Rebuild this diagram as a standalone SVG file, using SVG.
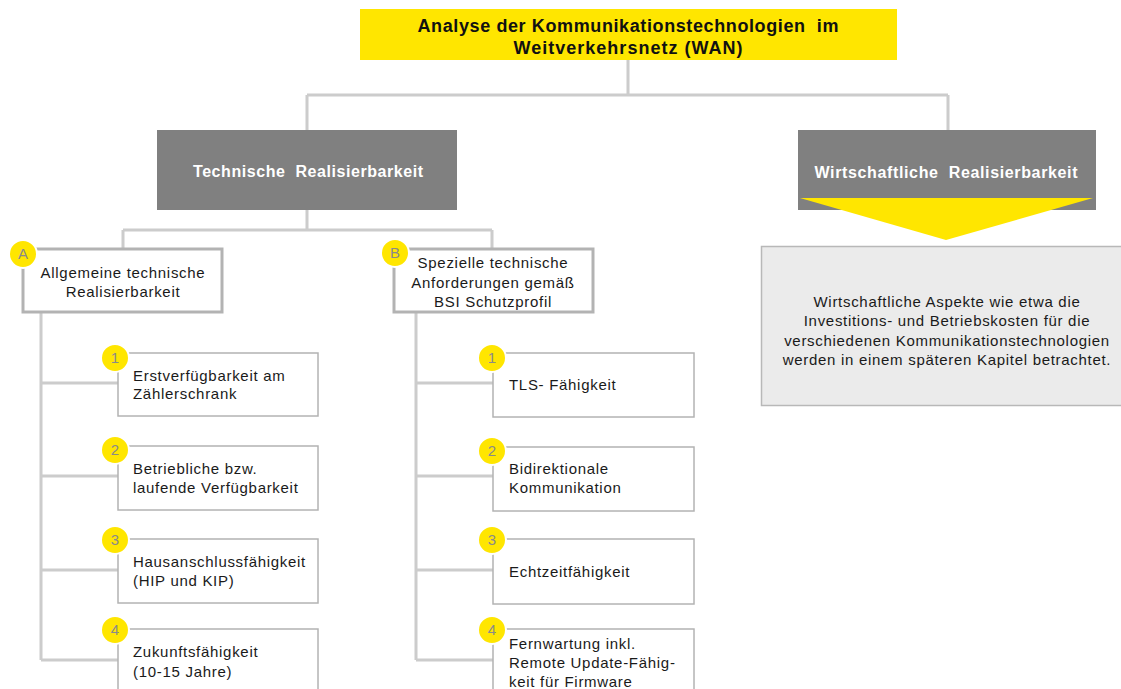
<svg xmlns="http://www.w3.org/2000/svg" width="1121" height="689" viewBox="0 0 1121 689">
<style>
.t{font-family:"Liberation Sans",Arial,sans-serif;fill:#1a1a1a;font-size:15px;letter-spacing:0.7px}
.ttl{font-family:"Liberation Sans",Arial,sans-serif;fill:#111111;font-size:18px;font-weight:bold;text-anchor:middle}
.w{font-family:"Liberation Sans",Arial,sans-serif;fill:#ffffff;font-weight:bold;font-size:16px;text-anchor:middle}
.c{text-anchor:middle}
.ln{stroke:#cccccc;stroke-width:3;fill:none}
.box{fill:#ffffff;stroke:#b3b3b3;stroke-width:1.5}
.hbox{fill:#ffffff;stroke:#b3b3b3;stroke-width:3}
.dot{fill:#ffe600;stroke:#ffffff;stroke-width:2}
.num{font-family:"Liberation Sans",Arial,sans-serif;font-size:15px;fill:#8a8a8a;text-anchor:middle}
</style>
<rect width="1121" height="689" fill="#ffffff"/>
<g id="connectors">
<path class="ln" d="M628 60V95M307 95H948M307 95V130M948 95V130"/>
<path class="ln" d="M307 210V230M123 230H492M123 230V248M492 230V248"/>
<path class="ln" d="M41 312V660M41 383H118M41 476H118M41 570H118M41 660H118"/>
<path class="ln" d="M416 312V660M416 383H493M416 476H493M416 570H493M416 660H493"/>
</g>
<g id="title">
<rect x="360" y="9" width="537" height="51" fill="#ffe600"/>
<text class="ttl" x="628" y="32" textLength="421" lengthAdjust="spacing">Analyse der Kommunikationstechnologien &#160;im</text>
<text class="ttl" x="628" y="54" textLength="229" lengthAdjust="spacing">Weitverkehrsnetz (WAN)</text>
</g>
<g id="technisch">
<rect x="157" y="130" width="300" height="80" fill="#808080"/>
<text class="w" x="308" y="177" textLength="230" lengthAdjust="spacing">Technische &#160;Realisierbarkeit</text>
</g>
<g id="wirtschaftlich">
<rect x="798" y="130" width="298" height="80" fill="#808080"/>
<text class="w" x="946" y="178" textLength="263" lengthAdjust="spacing">Wirtschaftliche &#160;Realisierbarkeit</text>
<polygon points="800,198 1093,198 946,240" fill="#ffe600"/>
</g>
<g id="wirtschaft-text">
<rect x="761.5" y="246.5" width="362" height="159" fill="#ebebeb" stroke="#b8b8b8" stroke-width="1.5"/>
<text class="t c" x="947" y="307">Wirtschaftliche Aspekte wie etwa die</text>
<text class="t c" x="947" y="326">Investitions- und Betriebskosten für die</text>
<text class="t c" x="947" y="346">verschiedenen Kommunikationstechnologien</text>
<text class="t c" x="947" y="365">werden in einem späteren Kapitel betrachtet.</text>
</g>
<g id="nodeA">
<rect class="hbox" x="23" y="249" width="199" height="63"/>
<circle class="dot" cx="23" cy="254" r="14"/>
<text class="num" x="23" y="259">A</text>
<text class="t c" x="123" y="278">Allgemeine technische</text>
<text class="t c" x="123" y="297">Realisierbarkeit</text>
</g>
<g id="nodeB">
<rect class="hbox" x="394" y="249" width="199" height="63"/>
<circle class="dot" cx="395" cy="253" r="14"/>
<text class="num" x="395" y="258">B</text>
<text class="t c" x="493" y="268">Spezielle technische</text>
<text class="t c" x="493" y="288">Anforderungen gemäß</text>
<text class="t c" x="493" y="307">BSI Schutzprofil</text>
</g>
<g id="a1">
<rect class="box" x="118" y="353" width="200" height="63"/>
<circle class="dot" cx="115" cy="358" r="14"/>
<text class="num" x="115" y="363">1</text>
<text class="t" x="133" y="381">Erstverfügbarkeit am</text>
<text class="t" x="133" y="399">Zählerschrank</text>
</g>
<g id="a2">
<rect class="box" x="118" y="446" width="200" height="64"/>
<circle class="dot" cx="115" cy="450" r="14"/>
<text class="num" x="115" y="455">2</text>
<text class="t" x="133" y="474">Betriebliche bzw.</text>
<text class="t" x="133" y="493">laufende Verfügbarkeit</text>
</g>
<g id="a3">
<rect class="box" x="118" y="539" width="200" height="64"/>
<circle class="dot" cx="115" cy="540" r="14"/>
<text class="num" x="115" y="545">3</text>
<text class="t" x="133" y="567">Hausanschlussfähigkeit</text>
<text class="t" x="133" y="586">(HIP und KIP)</text>
</g>
<g id="a4">
<rect class="box" x="118" y="629" width="200" height="70"/>
<circle class="dot" cx="115" cy="630" r="14"/>
<text class="num" x="115" y="635">4</text>
<text class="t" x="133" y="657">Zukunftsfähigkeit</text>
<text class="t" x="133" y="677">(10-15 Jahre)</text>
</g>
<g id="b1">
<rect class="box" x="493" y="353" width="201" height="64"/>
<circle class="dot" cx="492" cy="358" r="14"/>
<text class="num" x="492" y="363">1</text>
<text class="t" x="509" y="390">TLS- Fähigkeit</text>
</g>
<g id="b2">
<rect class="box" x="493" y="447" width="201" height="64"/>
<circle class="dot" cx="492" cy="451" r="14"/>
<text class="num" x="492" y="456">2</text>
<text class="t" x="509" y="474">Bidirektionale</text>
<text class="t" x="509" y="493">Kommunikation</text>
</g>
<g id="b3">
<rect class="box" x="493" y="539" width="201" height="65"/>
<circle class="dot" cx="492" cy="540" r="14"/>
<text class="num" x="492" y="545">3</text>
<text class="t" x="509" y="577">Echtzeitfähigkeit</text>
</g>
<g id="b4">
<rect class="box" x="493" y="629" width="201" height="70"/>
<circle class="dot" cx="492" cy="630" r="14"/>
<text class="num" x="492" y="635">4</text>
<text class="t" x="509" y="649">Fernwartung inkl.</text>
<text class="t" x="509" y="668">Remote Update-Fähig-</text>
<text class="t" x="509" y="687">keit für Firmware</text>
</g>
</svg>
